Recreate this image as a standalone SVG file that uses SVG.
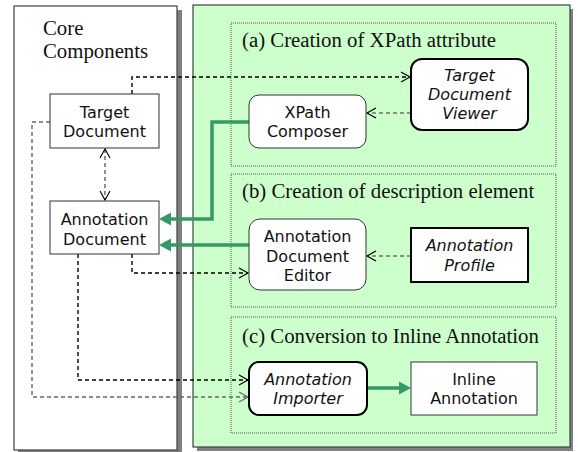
<svg xmlns="http://www.w3.org/2000/svg" width="578" height="452" viewBox="0 0 578 452">
<defs>
<style>
.panel{stroke:#404040;stroke-width:1.2}
.sub{fill:none;stroke:#555;stroke-width:1;stroke-dasharray:1 1}
.title{font-family:"Liberation Serif",serif;font-size:20.8px;fill:#111}
.lbl{font-family:"DejaVu Sans",sans-serif;font-size:16px;fill:#111;text-anchor:middle}
.it{font-style:italic}
.thin{fill:#fff;stroke:#333;stroke-width:1}
.thick{fill:#fff;stroke:#000;stroke-width:2}
.dash{fill:none;stroke:#000;stroke-width:1.4;stroke-dasharray:4 3}
.dashl{fill:none;stroke:#333;stroke-width:1.1;stroke-dasharray:4 3}
.dashg{fill:none;stroke:#666;stroke-width:1.4;stroke-dasharray:4 3}
.green{fill:none;stroke:#339966;stroke-width:3.5}
</style>
<marker id="open" markerWidth="12" markerHeight="12" refX="10" refY="6" orient="auto" markerUnits="userSpaceOnUse">
<path d="M1,1 L10,6 L1,11" fill="none" stroke="#000" stroke-width="1.2"/>
</marker>
<marker id="openg" markerWidth="12" markerHeight="12" refX="10" refY="6" orient="auto" markerUnits="userSpaceOnUse">
<path d="M1,1 L10,6 L1,11" fill="none" stroke="#666" stroke-width="1.2"/>
</marker>
<marker id="openS" markerWidth="12" markerHeight="12" refX="10" refY="6" orient="auto-start-reverse" markerUnits="userSpaceOnUse">
<path d="M1,1 L10,6 L1,11" fill="none" stroke="#000" stroke-width="1.1"/>
</marker>
</defs>
<rect width="578" height="452" fill="#fff"/>

<g id="core-panel">
<rect x="18" y="10" width="164" height="444" fill="#808080"/>
<rect x="14" y="6" width="163" height="444" fill="#fff" class="panel"/>
<text class="title" x="43" y="35">Core</text>
<text class="title" x="43" y="58">Components</text>
</g>

<g id="tool-panel">
<rect x="197" y="9" width="376" height="442" fill="#808080"/>
<rect x="193" y="5" width="377" height="442" fill="#ccffcc" class="panel"/>
</g>

<g id="group-a">
<rect x="231" y="23" width="325" height="143" class="sub"/>
<text class="title" x="242" y="47">(a) Creation of XPath attribute</text>
</g>
<g id="group-b">
<rect x="231" y="174" width="325" height="133" class="sub"/>
<text class="title" x="242" y="198">(b) Creation of description element</text>
</g>
<g id="group-c">
<rect x="231" y="317" width="325" height="116" class="sub"/>
<text class="title" x="242" y="343">(c) Conversion to Inline Annotation</text>
</g>

<g id="connectors">
<path class="dash" d="M132,94 V77 H410" marker-end="url(#open)"/>
<path class="dashl" d="M411,113 H367" marker-end="url(#open)"/>
<path class="dashl" d="M105,149 V200" marker-start="url(#openS)" marker-end="url(#openS)"/>
<path class="green" d="M249,122 H212 V219 H170"/>
<path d="M159,219 L171,212.5 L171,225.5 Z" fill="#339966"/>
<path class="green" d="M249,245 H170"/>
<path d="M159,245 L171,238.5 L171,251.5 Z" fill="#339966"/>
<path class="dashl" d="M411,256 H367" marker-end="url(#open)"/>
<path class="dash" d="M132,254 V273 H248" marker-end="url(#open)"/>
<path class="dash" d="M78,254 V380 H248" marker-end="url(#open)"/>
<path class="dashg" d="M50,122 H32 V397 H248" marker-end="url(#openg)"/>
<path class="green" d="M367,388 H400"/>
<path d="M411,388 L399,381.5 L399,394.5 Z" fill="#339966"/>
</g>

<g id="target-document">
<rect x="50" y="94" width="109" height="54" class="thin"/>
<text class="lbl" x="104.5" y="118">Target</text>
<text class="lbl" x="104.5" y="137">Document</text>
</g>
<g id="annotation-document">
<rect x="50" y="201" width="109" height="53" class="thin"/>
<text class="lbl" x="104.5" y="225">Annotation</text>
<text class="lbl" x="104.5" y="245">Document</text>
</g>
<g id="target-document-viewer">
<rect x="411" y="59" width="117" height="71" rx="11" class="thick"/>
<text class="lbl it" x="469.5" y="81">Target</text>
<text class="lbl it" x="469.5" y="100">Document</text>
<text class="lbl it" x="469.5" y="119">Viewer</text>
</g>
<g id="xpath-composer">
<rect x="249" y="95" width="117" height="53" rx="10" class="thin"/>
<text class="lbl" x="307.5" y="118">XPath</text>
<text class="lbl" x="307.5" y="137">Composer</text>
</g>
<g id="annotation-document-editor">
<rect x="249" y="219" width="117" height="71" rx="11" class="thin"/>
<text class="lbl" x="307.5" y="242">Annotation</text>
<text class="lbl" x="307.5" y="262">Document</text>
<text class="lbl" x="307.5" y="281">Editor</text>
</g>
<g id="annotation-profile">
<rect x="411" y="228" width="117" height="54" class="thick"/>
<text class="lbl it" x="469.5" y="251">Annotation</text>
<text class="lbl it" x="469.5" y="271">Profile</text>
</g>
<g id="annotation-importer">
<rect x="249" y="362" width="118" height="53" rx="10" class="thick"/>
<text class="lbl it" x="308" y="385">Annotation</text>
<text class="lbl it" x="308" y="404">Importer</text>
</g>
<g id="inline-annotation">
<rect x="411" y="362" width="126" height="53" class="thin"/>
<text class="lbl" x="474" y="385">Inline</text>
<text class="lbl" x="474" y="404">Annotation</text>
</g>
</svg>
